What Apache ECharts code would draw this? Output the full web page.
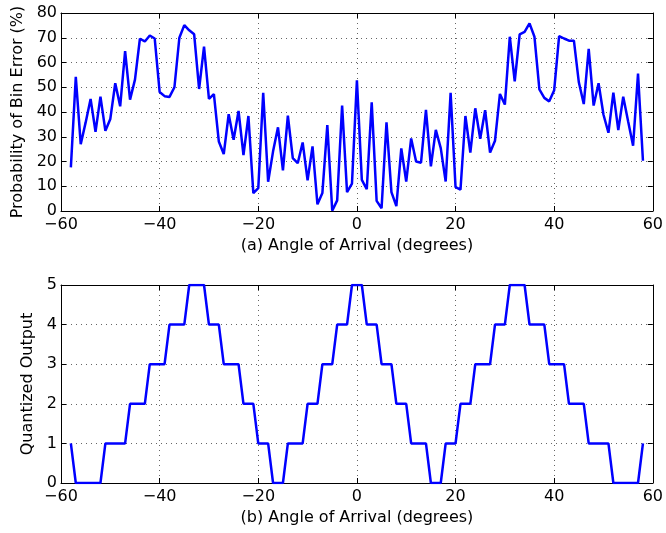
<!DOCTYPE html>
<html>
<head>
<meta charset="utf-8">
<script src="https://cdn.jsdelivr.net/npm/echarts@6/dist/echarts.min.js"></script>
<style>
html,body{margin:0;padding:0;background:#fff;}
#chart{width:666px;height:533px;}
</style>
</head>
<body>
<div id="chart"></div>
<script>
var angles = [-58,-57,-56,-55,-54,-53,-52,-51,-50,-49,-48,-47,-46,-45,-44,-43,-42,-41,-40,-39,-38,-37,-36,-35,-34,-33,-32,-31,-30,-29,-28,-27,-26,-25,-24,-23,-22,-21,-20,-19,-18,-17,-16,-15,-14,-13,-12,-11,-10,-9,-8,-7,-6,-5,-4,-3,-2,-1,0,1,2,3,4,5,6,7,8,9,10,11,12,13,14,15,16,17,18,19,20,21,22,23,24,25,26,27,28,29,30,31,32,33,34,35,36,37,38,39,40,41,42,43,44,45,46,47,48,49,50,51,52,53,54,55,56,57,58];

var binErrorPct = [17.6,54.2,27.0,35.8,45.3,32.0,46.2,32.4,37.2,51.6,42.3,64.6,45.0,53.1,69.6,68.5,70.9,69.7,48.1,46.4,46.1,50.0,70.0,75.1,73.0,71.4,49.3,66.4,45.3,47.2,28.1,23.0,39.1,28.8,40.4,22.6,38.4,7.2,9.2,47.8,11.8,24.1,33.8,16.4,38.5,21.4,19.3,27.7,12.4,26.1,2.7,7.3,34.7,0.1,4.3,42.6,7.6,11.1,52.8,
12.6,8.8,43.9,4.1,1.1,35.8,7.6,2.0,25.3,11.9,29.3,20.0,19.5,40.9,18.0,32.8,25.4,11.9,47.8,9.6,8.6,38.4,23.6,41.5,29.2,40.7,23.6,28.4,47.3,43.0,70.4,52.4,71.4,72.4,75.8,70.4,49.1,45.7,44.3,48.8,70.7,69.7,68.8,68.8,52.0,43.2,65.5,42.6,51.6,38.9,31.6,47.8,32.7,46.2,36.2,26.4,55.5,20.3];

var quantized = [1,0,0,0,0,0,0,1,1,1,1,1,2,2,2,2,3,3,3,3,4,4,4,4,5,5,5,5,4,4,4,3,3,3,3,2,2,2,1,1,1,0,0,0,1,1,1,1,2,2,2,3,3,3,4,4,4,5,5,5,4,4,4,3,3,3,2,2,2,1,1,1,1,0,0,0,1,1,1,2,2,2,3,3,3,3,4,4,4,5,5,5,5,4,4,4,4,3,3,3,3,2,2,2,2,1,1,1,1,1,0,0,0,0,0,0,1];

var xTicks = [-60,-40,-20,0,20,40,60];
var topYTicks = [0,10,20,30,40,50,60,70,80];
var bottomYTicks = [0,1,2,3,4,5];
var xNameTop = '(a) Angle of Arrival (degrees)';
var xNameBottom = '(b) Angle of Arrival (degrees)';
var yNameTop = 'Probability of Bin Error (%)';
var yNameBottom = 'Quantized Output';

function pairs(xs, ys){ return xs.map(function(x,i){ return [x, ys[i]]; }); }
function fmt(v){ return v < 0 ? '\u2212' + Math.abs(v) : String(v); }

var FONT = 'DejaVu Sans';
var labelStyle = {color:'#000', fontFamily:FONT, fontSize:16, formatter:fmt};
var nameStyle = {color:'#000', fontFamily:FONT, fontSize:16};
var gridLine = {show:true, lineStyle:{color:'#666', type:[1,4], width:1}};
var tickIn = {show:true, inside:true, length:5, lineStyle:{color:'#000', width:1}};

function xMain(gi, name){
  return {type:'value', gridIndex:gi, min:xTicks[0], max:xTicks[xTicks.length-1], interval:20,
    axisLine:{show:true, onZero:false, lineStyle:{color:'#000', width:1}},
    axisTick:tickIn, axisLabel:Object.assign({margin:6}, labelStyle), splitLine:gridLine,
    name:name, nameLocation:'middle', nameGap:27, nameTextStyle:nameStyle};
}
function xTop(gi){
  return {type:'value', gridIndex:gi, position:'top', min:xTicks[0], max:xTicks[xTicks.length-1], interval:20,
    axisLine:{show:true, onZero:false, lineStyle:{color:'#000', width:1}},
    axisTick:tickIn, axisLabel:{show:false}, splitLine:{show:false}};
}
function yMain(gi, ticks, interval, name, gap){
  return {type:'value', gridIndex:gi, min:ticks[0], max:ticks[ticks.length-1], interval:interval,
    axisLine:{show:true, onZero:false, lineStyle:{color:'#000', width:1}},
    axisTick:tickIn, axisLabel:Object.assign({margin:4}, labelStyle), splitLine:gridLine,
    name:name, nameLocation:'middle', nameGap:gap, nameTextStyle:nameStyle};
}
function yRight(gi, ticks, interval){
  return {type:'value', gridIndex:gi, position:'right', min:ticks[0], max:ticks[ticks.length-1], interval:interval,
    axisLine:{show:true, onZero:false, lineStyle:{color:'#000', width:1}},
    axisTick:tickIn, axisLabel:{show:false}, splitLine:{show:false}};
}

var chart = echarts.init(document.getElementById('chart'), null, {renderer:'canvas'});
chart.setOption({
  backgroundColor:'#fff',
  animation:false,
  grid:[
    {left:61, top:13, width:595, height:198},
    {left:61, top:285, width:595, height:198}
  ],
  xAxis:[xMain(0, xNameTop), xTop(0), xMain(1, xNameBottom), xTop(1)],
  yAxis:[yMain(0, topYTicks, 10, yNameTop, 32), yRight(0, topYTicks, 10),
         yMain(1, bottomYTicks, 1, yNameBottom, 22), yRight(1, bottomYTicks, 1)],
  series:[
    {type:'line', xAxisIndex:0, yAxisIndex:0, data:pairs(angles, binErrorPct), showSymbol:false,
     lineStyle:{color:'#0000ff', width:2.5}, itemStyle:{color:'#0000ff'}, clip:true},
    {type:'line', xAxisIndex:2, yAxisIndex:2, data:pairs(angles, quantized), showSymbol:false,
     lineStyle:{color:'#0000ff', width:2.5}, itemStyle:{color:'#0000ff'}, clip:true}
  ]
});
</script>
</body>
</html>
